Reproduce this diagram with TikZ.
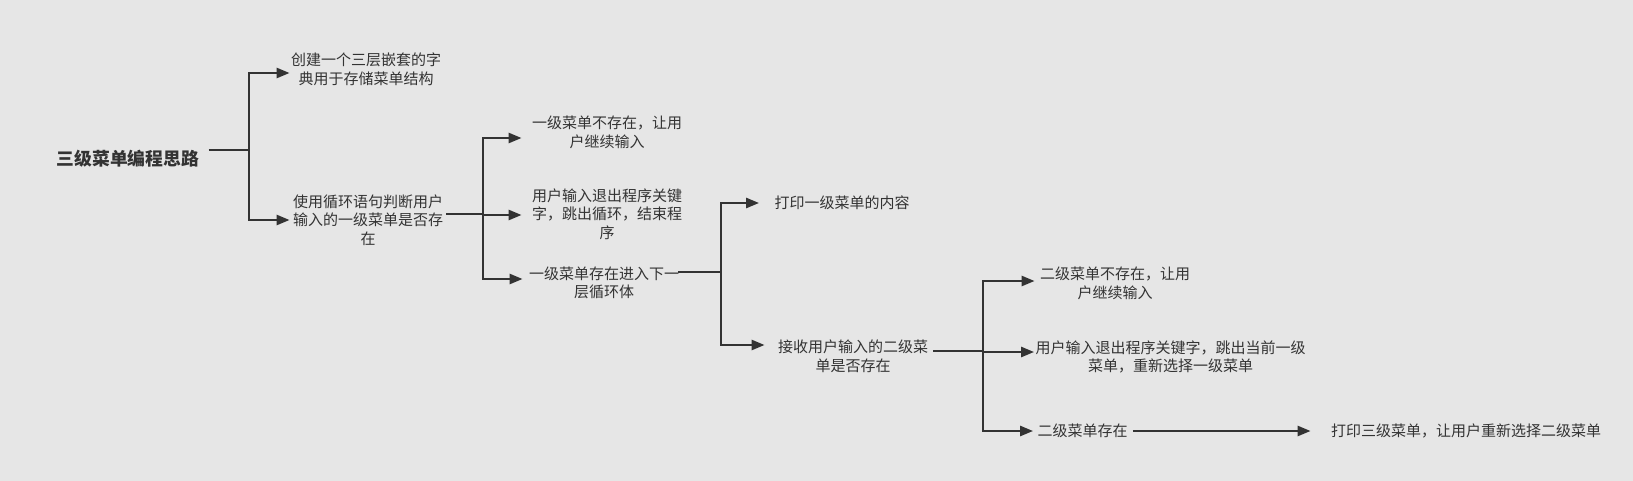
\documentclass[tikz,border=0pt]{standalone}
\usepackage{fontspec}
\setmainfont{Noto Sans CJK SC}
\usepackage{xcolor}
\usepackage{tikz}
\usetikzlibrary{positioning,calc,arrows.meta}
\definecolor{bgcol}{HTML}{E6E6E6}
\definecolor{inkcol}{HTML}{333333}
\tikzset{
  topic/.style={inner sep=0pt,align=center,text=inkcol,font=\fontsize{7.5}{9.25}\selectfont},
  branch/.style={draw=inkcol,line width=1.25pt},
  link/.style={branch,-{Triangle[length=6.5pt,width=5pt]}}
}

\begin{document}
\begin{tikzpicture}[x=0.5pt,y=-0.5pt]
            \fill[bgcol] (0,0) rectangle (1633,481);
            \useasboundingbox (0,0) rectangle (1633,481);

            \node[topic,font=\bfseries\fontsize{8.9}{10}\selectfont] (root) at (128,159) {三级菜单编程思路};

            \node[topic] (dict) at (366,69.5) {创建一个三层嵌套的字\\典用于存储菜单结构};
            \node[topic] (loop1) at (368,220) {使用循环语句判断用户\\输入的一级菜单是否存\\在};

            \node[topic] (miss1) at (607,132.5) {一级菜单不存在，让用\\户继续输入};
            \node[topic] (quit1) at (607,214) {用户输入退出程序关键\\字，跳出循环，结束程\\序};
            \node[topic] (enter1) at (604,283) {一级菜单存在进入下一\\层循环体};

            \node[topic] (print1) at (842,203) {打印一级菜单的内容};
            \node[topic] (ask2) at (853,356.5) {接收用户输入的二级菜\\单是否存在};

            \node[topic] (miss2) at (1115,283.5) {二级菜单不存在，让用\\户继续输入};
            \node[topic] (quit2) at (1170.5,357) {用户输入退出程序关键字，跳出当前一级\\菜单，重新选择一级菜单};
            \node[topic] (hit2) at (1082.5,431) {二级菜单存在};
            \node[topic] (print3) at (1466,431) {打印三级菜单，让用户重新选择二级菜单};

            \coordinate (j0) at (249,150);
            \coordinate (j1) at (483,214);
            \coordinate (j2) at (721,272);
            \coordinate (j3) at (983,351);

            \draw[branch] ($(root.east)+(9,-9)$) -- (j0);
            \draw[link] (j0) |- ($(dict.west)+(-1,3.5)$);
            \draw[link] (j0) |- ($(loop1.west)+(-3,0)$);

            \draw[branch] ($(loop1.east)+(3,-6)$) -- (j1);
            \draw[link] (j1) |- ($(miss1.west)+(-10,5.5)$);
            \draw[link] (j1) |- ($(quit1.west)+(-10,1)$);
            \draw[link] (j1) |- ($(enter1.west)+(-6,-4)$);

            \draw[branch] ($(enter1.east)+(-1,-11)$) -- (j2);
            \draw[link] (j2) |- ($(print1.west)+(-15,0)$);
            \draw[link] (j2) |- ($(ask2.west)+(-13,-11.5)$);

            \draw[branch] ($(ask2.east)+(5,-5.5)$) -- (j3);
            \draw[link] (j3) |- ($(miss2.west)+(-5,-2.5)$);
            \draw[link] (j3) |- ($(quit2.west)+(-1,-5)$);
            \draw[link] (j3) |- ($(hit2.west)+(-4,0)$);

            \draw[link] ($(hit2.east)+(5,0)$) -- ($(print3.west)+(-20,0)$);
        \end{tikzpicture}
\end{document}
